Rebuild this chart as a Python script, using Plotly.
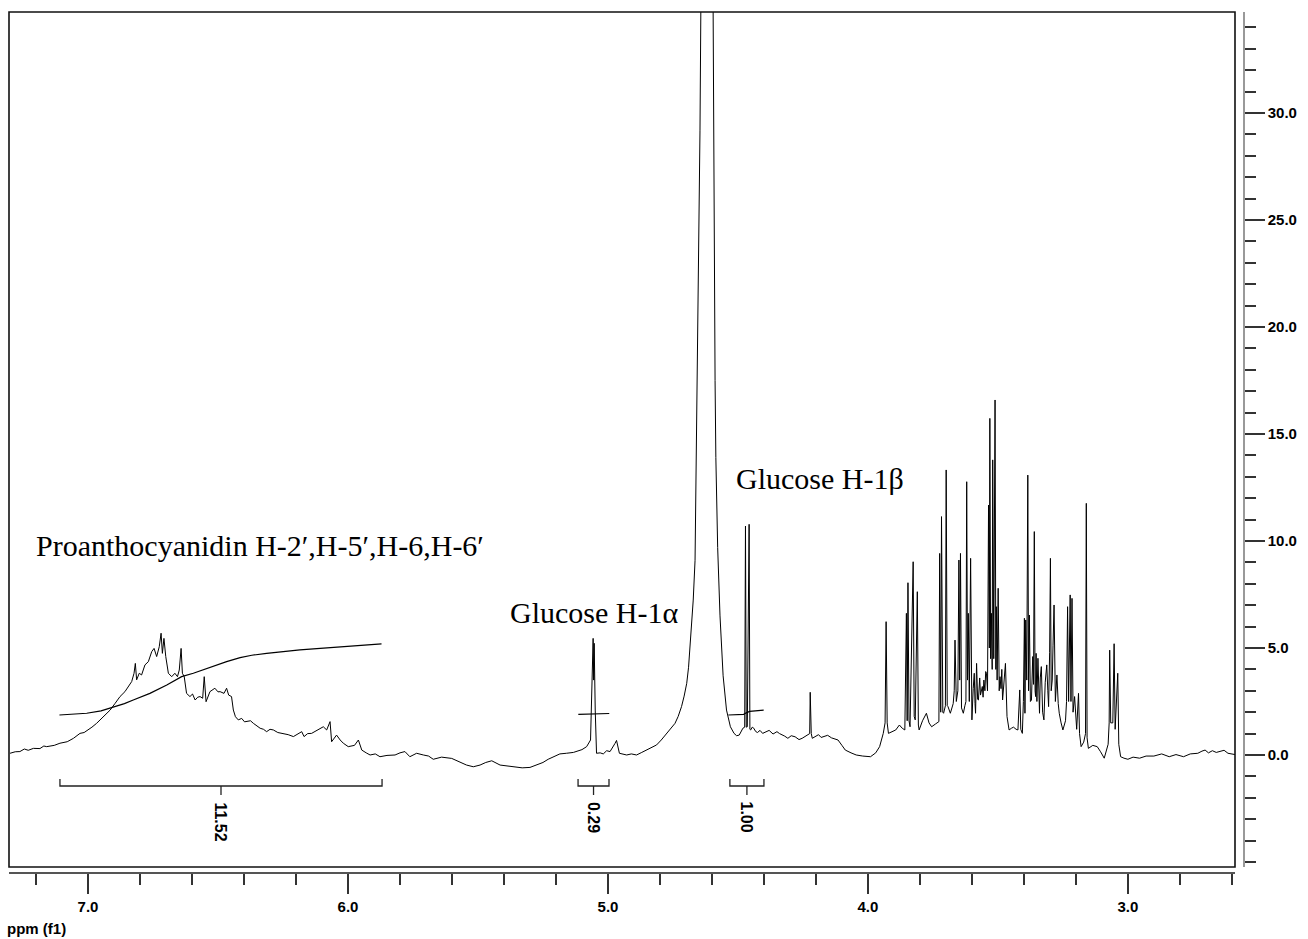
import plotly.graph_objects as go

# ---------------- data ----------------
ppm = [7.300, 7.280, 7.262, 7.245, 7.230, 7.210, 7.185, 7.170, 7.159, 7.130, 7.108, 7.080, 7.056, 7.031,
       7.015, 6.999, 6.985, 6.967, 6.941, 6.915, 6.896, 6.877, 6.858, 6.845, 6.832, 6.823, 6.818, 6.813,
       6.803, 6.794, 6.781, 6.768, 6.755, 6.746, 6.736, 6.726, 6.719, 6.714, 6.708, 6.701, 6.691, 6.678,
       6.666, 6.656, 6.649, 6.642, 6.637, 6.630, 6.621, 6.608, 6.598, 6.588, 6.578, 6.569, 6.559, 6.553,
       6.546, 6.531, 6.520, 6.512, 6.500, 6.492, 6.477, 6.467, 6.459, 6.448, 6.441, 6.433, 6.422, 6.409,
       6.398, 6.390, 6.375, 6.364, 6.350, 6.338, 6.325, 6.313, 6.300, 6.287, 6.270, 6.249, 6.230, 6.210,
       6.195, 6.178, 6.169, 6.155, 6.140, 6.114, 6.095, 6.082, 6.069, 6.063, 6.044, 6.030, 6.018, 5.999,
       5.975, 5.960, 5.947, 5.930, 5.915, 5.895, 5.877, 5.850, 5.819, 5.800, 5.781, 5.762, 5.736, 5.710,
       5.690, 5.672, 5.640, 5.601, 5.575, 5.544, 5.518, 5.492, 5.470, 5.447, 5.415, 5.390, 5.364, 5.330,
       5.300, 5.275, 5.250, 5.230, 5.210, 5.185, 5.160, 5.133, 5.100, 5.082, 5.067, 5.062, 5.060, 5.057,
       5.055, 5.053, 5.049, 5.044, 5.030, 5.018, 5.005, 4.992, 4.973, 4.967, 4.956, 4.940, 4.928, 4.910,
       4.890, 4.870, 4.851, 4.830, 4.813, 4.795, 4.774, 4.758, 4.742, 4.730, 4.717, 4.707, 4.697, 4.690,
       4.685, 4.678, 4.672, 4.665, 4.658, 4.650, 4.646, 4.642, 4.620, 4.596, 4.592, 4.588, 4.585, 4.578,
       4.569, 4.557, 4.544, 4.529, 4.515, 4.505, 4.495, 4.481, 4.474, 4.471, 4.468, 4.464, 4.457, 4.454,
       4.451, 4.445, 4.439, 4.432, 4.425, 4.415, 4.405, 4.392, 4.380, 4.365, 4.350, 4.340, 4.330, 4.320,
       4.308, 4.295, 4.280, 4.265, 4.253, 4.242, 4.232, 4.224, 4.222, 4.218, 4.214, 4.200, 4.190, 4.180,
       4.170, 4.155, 4.140, 4.128, 4.115, 4.100, 4.087, 4.065, 4.045, 4.020, 3.990, 3.970, 3.955, 3.941,
       3.934, 3.930, 3.926, 3.921, 3.905, 3.893, 3.879, 3.868, 3.858, 3.852, 3.849, 3.846, 3.842, 3.838,
       3.826, 3.822, 3.818, 3.810, 3.806, 3.803, 3.790, 3.775, 3.765, 3.755, 3.740, 3.727, 3.724, 3.720,
       3.717, 3.712, 3.709, 3.702, 3.699, 3.695, 3.692, 3.683, 3.672, 3.668, 3.665, 3.660, 3.654, 3.650,
       3.647, 3.644, 3.640, 3.633, 3.627, 3.623, 3.620, 3.617, 3.614, 3.610, 3.605, 3.602, 3.600, 3.595,
       3.591, 3.588, 3.586, 3.582, 3.578, 3.575, 3.570, 3.567, 3.564, 3.560, 3.557, 3.554, 3.550, 3.547,
       3.544, 3.540, 3.536, 3.533, 3.531, 3.528, 3.525, 3.522, 3.520, 3.516, 3.511, 3.508, 3.506, 3.503,
       3.499, 3.495, 3.492, 3.488, 3.485, 3.482, 3.477, 3.471, 3.465, 3.457, 3.448, 3.440, 3.430, 3.423,
       3.416, 3.412, 3.406, 3.402, 3.398, 3.396, 3.393, 3.389, 3.385, 3.382, 3.379, 3.375, 3.371, 3.366,
       3.363, 3.360, 3.357, 3.355, 3.353, 3.350, 3.346, 3.343, 3.340, 3.337, 3.333, 3.328, 3.323, 3.318,
       3.312, 3.308, 3.305, 3.301, 3.298, 3.295, 3.291, 3.288, 3.284, 3.279, 3.276, 3.273, 3.268, 3.264,
       3.257, 3.250, 3.240, 3.236, 3.232, 3.228, 3.222, 3.219, 3.215, 3.211, 3.205, 3.197, 3.190, 3.186,
       3.180, 3.170, 3.163, 3.160, 3.157, 3.152, 3.135, 3.118, 3.105, 3.091, 3.076, 3.072, 3.070, 3.066,
       3.058, 3.053, 3.049, 3.039, 3.035, 3.028, 3.015, 3.000, 2.980, 2.955, 2.930, 2.900, 2.870, 2.841,
       2.815, 2.786, 2.760, 2.731, 2.715, 2.703, 2.690, 2.675, 2.660, 2.648, 2.630, 2.615, 2.600, 2.579]

intensity = [0.08, 0.15, 0.16, 0.28, 0.22, 0.31, 0.30, 0.42, 0.39, 0.45, 0.55, 0.62, 0.78, 1.01,
             1.05, 1.17, 1.30, 1.48, 1.79, 2.10, 2.41, 2.73, 2.96, 3.19, 3.43, 3.82, 4.28, 3.51,
             3.82, 3.74, 4.21, 4.36, 4.83, 4.98, 4.60, 5.06, 5.69, 4.75, 5.45, 4.60, 3.82, 3.66,
             3.82, 3.66, 3.97, 4.98, 3.82, 3.66, 2.88, 2.73, 2.85, 2.57, 2.70, 2.73, 2.65, 3.66,
             2.49, 2.96, 3.05, 3.12, 2.95, 2.96, 2.88, 3.12, 2.80, 2.73, 2.10, 1.79, 1.64, 1.71,
             1.55, 1.56, 1.60, 1.48, 1.35, 1.25, 1.20, 1.09, 1.20, 1.17, 1.05, 1.01, 0.95, 0.86,
             0.95, 1.09, 0.86, 1.00, 1.01, 1.17, 1.32, 1.17, 1.56, 0.62, 0.93, 0.70, 0.55, 0.39,
             0.45, 0.70, 0.23, 0.10, 0.00, 0.05, -0.08, -0.02, 0.00, 0.10, 0.16, -0.08, 0.08, 0.00,
             -0.05, -0.20, -0.10, -0.16, -0.30, -0.47, -0.55, -0.47, -0.35, -0.27, -0.47, -0.50, -0.55, -0.60,
             -0.58, -0.45, -0.35, -0.20, -0.08, 0.05, 0.08, 0.12, 0.25, 0.39, 0.70, 3.00, 4.60, 5.45,
             3.50, 5.22, 2.10, 0.08, 0.10, 0.05, 0.20, 0.16, 0.54, 0.68, 0.08, 0.05, 0.00, 0.05,
             0.00, 0.12, 0.23, 0.35, 0.47, 0.70, 1.01, 1.25, 1.48, 1.80, 2.26, 2.75, 3.35, 4.10,
             4.91, 6.15, 7.24, 9.10, 15.7, 23.6, 29.2, 36.0, 150.0, 36.0, 24.0, 17.5, 13.9, 9.70,
             6.50, 3.70, 2.10, 1.32, 1.01, 0.90, 0.93, 1.25, 1.30, 10.7, 1.30, 1.32, 10.78, 1.20,
             1.17, 1.30, 1.25, 1.10, 1.05, 1.15, 1.01, 1.10, 1.15, 0.98, 1.09, 1.00, 0.95, 0.88,
             0.78, 0.90, 0.85, 0.72, 0.78, 0.85, 0.93, 1.00, 2.93, 1.00, 0.78, 0.90, 0.95, 0.82,
             0.86, 0.92, 0.80, 0.76, 0.70, 0.45, 0.23, 0.10, 0.00, -0.05, -0.08, 0.10, 0.39, 1.01,
             1.50, 6.23, 1.50, 1.01, 1.10, 1.17, 1.40, 1.25, 1.17, 6.62, 1.60, 8.05, 1.60, 1.32,
             9.03, 1.80, 1.64, 7.63, 1.40, 1.17, 1.60, 1.95, 1.50, 1.32, 1.45, 1.56, 9.42, 2.00,
             11.14, 2.00, 1.95, 2.30, 13.32, 2.30, 2.26, 1.95, 2.40, 3.00, 5.37, 2.50, 3.00, 9.11,
             3.50, 9.42, 2.20, 1.95, 2.30, 2.50, 12.77, 3.50, 6.62, 2.50, 9.19, 2.00, 1.64, 3.10,
             3.82, 2.40, 1.95, 4.28, 2.60, 2.57, 3.60, 2.80, 3.04, 3.20, 2.70, 3.50, 3.00, 3.90,
             3.82, 3.00, 11.68, 5.00, 15.73, 4.50, 6.62, 4.00, 13.79, 4.50, 16.59, 4.00, 6.93, 3.50,
             7.79, 3.00, 3.66, 3.10, 4.00, 2.57, 3.20, 4.28, 1.80, 1.17, 1.25, 1.30, 1.20, 1.17,
             3.04, 1.20, 1.01, 2.50, 6.39, 1.95, 6.31, 3.50, 13.08, 3.00, 6.54, 2.50, 2.57, 4.60,
             3.30, 10.44, 3.00, 2.73, 4.75, 2.50, 4.52, 3.20, 1.95, 3.60, 4.13, 2.00, 1.64, 3.40,
             4.21, 3.00, 2.26, 4.80, 9.19, 3.00, 3.50, 5.10, 7.01, 2.50, 3.20, 3.74, 2.40, 1.95,
             1.50, 1.17, 1.60, 2.50, 6.93, 2.50, 7.48, 2.50, 7.32, 2.00, 2.73, 1.20, 2.88, 1.00,
             0.39, 0.60, 1.00, 11.76, 0.80, 0.31, 0.45, 0.39, 0.15, -0.15, 0.50, 1.50, 4.90, 1.50,
             1.50, 5.20, 1.20, 3.82, 0.50, -0.08, -0.15, -0.20, -0.10, -0.15, -0.05, -0.05, 0.05, -0.08,
             0.02, -0.08, 0.05, 0.08, 0.18, 0.23, 0.10, 0.20, 0.12, 0.16, 0.22, 0.08, 0.05, 0.00]

# integral curves
integral1_ppm = [7.110, 7.060, 7.005, 6.950, 6.903, 6.860, 6.826, 6.762, 6.697, 6.640, 6.595, 6.544,
                 6.500, 6.467, 6.415, 6.370, 6.313, 6.250, 6.185, 6.120, 6.056, 5.960, 5.871]
integral1_val = [1.87, 1.90, 1.95, 2.06, 2.23, 2.40, 2.57, 2.88, 3.27, 3.66, 3.82, 4.05,
                 4.22, 4.36, 4.55, 4.66, 4.75, 4.84, 4.91, 4.97, 5.03, 5.11, 5.19]
integral2_ppm = [5.114, 5.062, 5.052, 4.995]
integral2_val = [1.90, 1.91, 1.93, 1.94]
integral3_ppm = [4.537, 4.478, 4.468, 4.455, 4.401]
integral3_val = [1.87, 1.90, 1.97, 2.04, 2.10]

# integration regions
region_from = [7.108, 5.115, 4.531]
region_to = [5.869, 4.996, 4.400]
region_labels = ["11.52", "0.29", "1.00"]

x_tick_vals = [7.0, 6.0, 5.0, 4.0, 3.0]
y_tick_vals = [0, 5, 10, 15, 20, 25, 30]

peak_labels = ["Proanthocyanidin H-2\u2032,H-5\u2032,H-6,H-6\u2032", "Glucose H-1\u03b1", "Glucose H-1\u03b2"]
peak_label_ppm = [6.338, 5.054, 4.185]
peak_label_val = [9.81, 6.68, 12.94]

# ---------------- figure ----------------
fig = go.Figure()
fig.add_trace(go.Scatter(x=ppm, y=intensity, mode="lines",
                         line=dict(color="black", width=1), hoverinfo="skip"))
for xs, ys in [(integral1_ppm, integral1_val), (integral2_ppm, integral2_val), (integral3_ppm, integral3_val)]:
    fig.add_trace(go.Scatter(x=xs, y=ys, mode="lines", line=dict(color="black", width=1.2),
                             hoverinfo="skip"))

BR_TOP, BR_MID, BR_BOT = -1.12, -1.45, -1.87
bx, by = [], []
for a, b in zip(region_from, region_to):
    c = (a + b) / 2
    bx += [a, a, b, b, None, c, c, None]
    by += [BR_TOP, BR_MID, BR_MID, BR_TOP, None, BR_MID, BR_BOT, None]
fig.add_trace(go.Scatter(x=bx, y=by, mode="lines", line=dict(color="#222", width=1.3), hoverinfo="skip"))

for a, b, lab in zip(region_from, region_to, region_labels):
    fig.add_annotation(x=(a + b) / 2, y=-2.1, xref="x", yref="y", text="<b>" + lab + "</b>", showarrow=False,
                       textangle=90, xanchor="center", yanchor="top",
                       font=dict(family="Liberation Sans, Arial", size=16, color="black"))

for t, px, py in zip(peak_labels, peak_label_ppm, peak_label_val):
    fig.add_annotation(x=px, y=py, xref="x", yref="y", text=t, showarrow=False,
                       xanchor="center", yanchor="middle",
                       font=dict(family="Liberation Serif, Times New Roman", size=30, color="black"))

fig.add_annotation(x=-0.003, y=-0.064, xref="paper", yref="paper", text="<b>ppm (f1)</b>", showarrow=False,
                   xanchor="left", yanchor="middle",
                   font=dict(family="Liberation Sans, Arial", size=15, color="black"))

fig.add_shape(type="rect", xref="x domain", yref="y domain", x0=0, x1=1, y0=0, y1=1,
              line=dict(color="#111", width=1.6), layer="above")

tickfont = dict(family="Liberation Sans, Arial", size=15, color="black", weight="bold")
fig.update_layout(
    width=1308, height=939,
    margin=dict(l=9, r=64, t=12, b=66, pad=0),
    paper_bgcolor="white", plot_bgcolor="white",
    showlegend=False,
    xaxis=dict(range=[7.304, 2.588], domain=[0, 0.99271], anchor="free", position=0,
               showline=True, linecolor="#555", linewidth=1.5, showgrid=False, zeroline=False,
               ticks="outside", ticklen=20, tickwidth=1.5, tickcolor="#333",
               tickvals=x_tick_vals, ticktext=[f"{v:.1f}" for v in x_tick_vals], tickfont=tickfont,
               minor=dict(dtick=0.2, tick0=0, ticks="outside", ticklen=11, tickwidth=1.5, tickcolor="#333")),
    yaxis=dict(range=[-5.234, 34.72], domain=[0.00697, 1], side="right", anchor="free", position=1,
               showline=True, linecolor="#999", linewidth=1.5, showgrid=False, zeroline=False,
               ticks="outside", ticklen=20, tickwidth=1.5, tickcolor="#333",
               tickvals=y_tick_vals, ticktext=[f"{v:.1f}" for v in y_tick_vals], tickfont=tickfont,
               minor=dict(dtick=1, tick0=0, ticks="outside", ticklen=11, tickwidth=1.5, tickcolor="#333")),
)

fig.write_html("out.html")
